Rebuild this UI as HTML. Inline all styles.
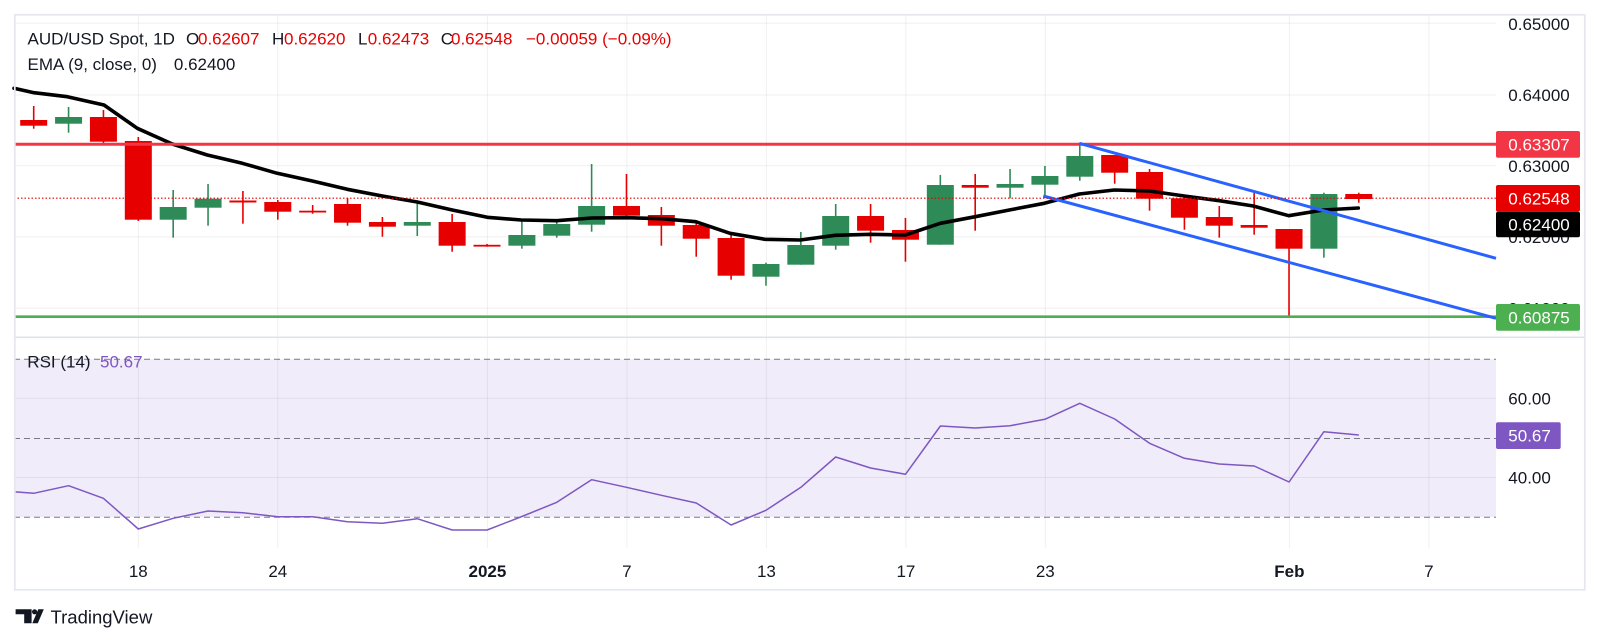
<!DOCTYPE html>
<html><head><meta charset="utf-8"><style>
html,body{margin:0;padding:0;background:#fff;}
svg{display:block;font-family:"Liberation Sans",Arial,sans-serif;}
</style></head><body>
<svg width="1601" height="644" viewBox="0 0 1601 644" xmlns="http://www.w3.org/2000/svg">
<rect width="1601" height="644" fill="#fff"/>
<!-- RSI band -->
<rect x="14" y="359.3" width="1482" height="157.7" fill="rgb(240,236,249)"/>
<!-- horizontal grid -->
<g stroke="rgba(42,46,57,0.07)" stroke-width="1">
<line x1="14" y1="23.3" x2="1496" y2="23.3"/>
<line x1="14" y1="95" x2="1496" y2="95"/>
<line x1="14" y1="165.7" x2="1496" y2="165.7"/>
<line x1="14" y1="236.7" x2="1496" y2="236.7"/>
<line x1="14" y1="308.3" x2="1496" y2="308.3"/>
<line x1="14" y1="398.3" x2="1496" y2="398.3"/>
<line x1="14" y1="477.5" x2="1496" y2="477.5"/>
</g>
<!-- vertical grid -->
<g stroke="rgba(42,46,57,0.07)" stroke-width="1">
<line x1="138.3" y1="14" x2="138.3" y2="548"/>
<line x1="277.8" y1="14" x2="277.8" y2="548"/>
<line x1="487.4" y1="14" x2="487.4" y2="548"/>
<line x1="626.9" y1="14" x2="626.9" y2="548"/>
<line x1="766.4" y1="14" x2="766.4" y2="548"/>
<line x1="905.9" y1="14" x2="905.9" y2="548"/>
<line x1="1045.3" y1="14" x2="1045.3" y2="548"/>
<line x1="1289.4" y1="14" x2="1289.4" y2="548"/>
<line x1="1428.9" y1="14" x2="1428.9" y2="548"/>
</g>
<!-- RSI dashed levels -->
<g stroke="#787b86" stroke-width="1" stroke-dasharray="6 4">
<line x1="14" y1="359.3" x2="1496" y2="359.3"/>
<line x1="14" y1="438.5" x2="1496" y2="438.5"/>
<line x1="14" y1="517.3" x2="1496" y2="517.3"/>
</g>
<!-- RSI line -->
<polyline fill="none" stroke="#7e57c2" stroke-width="1.5" stroke-linejoin="round" points="14,491.7 33.7,493.3 68.6,485.7 103.4,498.3 138.3,529 173.2,518.3 208,511 242.9,512.7 277.8,516.7 312.7,516.7 347.4,521.7 382.3,523.3 417.3,518.7 452.2,530 487.1,530 521.9,516.5 556.8,502.3 591.6,479.7 626.5,487.3 661.4,495.3 696.3,503 731.1,525 766,510.3 800.9,487.3 835.7,457 870.6,468 905.5,474.3 940.4,426 975.2,428 1010.1,425.7 1044.9,419.3 1079.8,403.3 1114.7,419 1149.6,443.3 1184.4,458.3 1219.3,464 1254.2,466 1289.1,482 1323.9,431.7 1358.8,435"/>

<!-- candles red -->
<g stroke="#e60000" stroke-width="1.6">
<line x1="33.7" y1="106" x2="33.7" y2="128.7"/>
<line x1="103.44" y1="110" x2="103.44" y2="143.3"/>
<line x1="138.31" y1="137" x2="138.31" y2="221"/>
<line x1="242.92" y1="191" x2="242.92" y2="223.7"/>
<line x1="277.79" y1="200" x2="277.79" y2="219.7"/>
<line x1="312.66" y1="205" x2="312.66" y2="213.7"/>
<line x1="347.53" y1="198" x2="347.53" y2="225.7"/>
<line x1="382.4" y1="217" x2="382.4" y2="236.7"/>
<line x1="452.14" y1="214" x2="452.14" y2="251.7"/>
<line x1="487.01" y1="244" x2="487.01" y2="246.7"/>
<line x1="626.49" y1="174" x2="626.49" y2="216.7"/>
<line x1="661.36" y1="207" x2="661.36" y2="245.7"/>
<line x1="696.23" y1="223.3" x2="696.23" y2="256.7"/>
<line x1="731.1" y1="233.3" x2="731.1" y2="279.7"/>
<line x1="870.58" y1="204" x2="870.58" y2="242.7"/>
<line x1="905.45" y1="218" x2="905.45" y2="261.7"/>
<line x1="975.19" y1="174" x2="975.19" y2="230.7"/>
<line x1="1114.67" y1="155" x2="1114.67" y2="183.7"/>
<line x1="1149.54" y1="169" x2="1149.54" y2="210.7"/>
<line x1="1184.41" y1="196.7" x2="1184.41" y2="229.7"/>
<line x1="1219.28" y1="206" x2="1219.28" y2="237.7"/>
<line x1="1254.15" y1="191.7" x2="1254.15" y2="234.7"/>
<line x1="1289.02" y1="229" x2="1289.02" y2="316.7"/>
<line x1="1358.76" y1="192.7" x2="1358.76" y2="202.7"/>
</g>
<g fill="#e60000">
<rect x="20.2" y="120" width="27" height="5.7"/>
<rect x="89.94" y="117" width="27" height="24.7"/>
<rect x="124.81" y="141" width="27" height="78.7"/>
<rect x="229.42" y="200.5" width="27" height="2"/>
<rect x="264.29" y="202" width="27" height="9.7"/>
<rect x="299.16" y="210.7" width="27" height="1.8"/>
<rect x="334.03" y="204" width="27" height="18.7"/>
<rect x="368.9" y="222" width="27" height="4.7"/>
<rect x="438.64" y="222" width="27" height="23.7"/>
<rect x="473.51" y="244.8" width="27" height="1.8"/>
<rect x="612.99" y="206" width="27" height="9.7"/>
<rect x="647.86" y="215" width="27" height="10.7"/>
<rect x="682.73" y="225" width="27" height="13.7"/>
<rect x="717.6" y="238" width="27" height="37.7"/>
<rect x="857.08" y="216" width="27" height="14.7"/>
<rect x="891.95" y="230" width="27" height="9.7"/>
<rect x="961.69" y="185" width="27" height="2.7"/>
<rect x="1101.17" y="155" width="27" height="17.7"/>
<rect x="1136.04" y="172" width="27" height="26.7"/>
<rect x="1170.91" y="198.3" width="27" height="19.4"/>
<rect x="1205.78" y="217" width="27" height="8.7"/>
<rect x="1240.65" y="225" width="27" height="2.7"/>
<rect x="1275.52" y="229" width="27" height="19.7"/>
<rect x="1345.26" y="194" width="27" height="5"/>
</g>
<!-- candles green -->
<g stroke="#2e8a57" stroke-width="1.6">
<line x1="68.57" y1="107" x2="68.57" y2="132.7"/>
<line x1="173.18" y1="190" x2="173.18" y2="237.7"/>
<line x1="208.05" y1="184" x2="208.05" y2="225.7"/>
<line x1="417.27" y1="203.3" x2="417.27" y2="236"/>
<line x1="521.88" y1="220.7" x2="521.88" y2="248.7"/>
<line x1="556.75" y1="219" x2="556.75" y2="237.7"/>
<line x1="591.62" y1="164" x2="591.62" y2="231.7"/>
<line x1="765.97" y1="262.7" x2="765.97" y2="285.7"/>
<line x1="800.84" y1="232" x2="800.84" y2="264.7"/>
<line x1="835.71" y1="204" x2="835.71" y2="249.7"/>
<line x1="940.32" y1="175" x2="940.32" y2="244.7"/>
<line x1="1010.06" y1="169" x2="1010.06" y2="198.3"/>
<line x1="1044.93" y1="166" x2="1044.93" y2="196.7"/>
<line x1="1079.8" y1="143.3" x2="1079.8" y2="180.7"/>
<line x1="1323.89" y1="192.7" x2="1323.89" y2="257.7"/>
</g>
<g fill="#2e8a57">
<rect x="55.07" y="117" width="27" height="6.7"/>
<rect x="159.68" y="207" width="27" height="12.7"/>
<rect x="194.55" y="198.7" width="27" height="9"/>
<rect x="403.77" y="222" width="27" height="3.7"/>
<rect x="508.38" y="235" width="27" height="10.7"/>
<rect x="543.25" y="224" width="27" height="11.7"/>
<rect x="578.12" y="206" width="27" height="18.7"/>
<rect x="752.47" y="264" width="27" height="12.7"/>
<rect x="787.34" y="245" width="27" height="19.7"/>
<rect x="822.21" y="216" width="27" height="29.7"/>
<rect x="926.82" y="185" width="27" height="59.7"/>
<rect x="996.56" y="184" width="27" height="3.7"/>
<rect x="1031.43" y="176" width="27" height="8.7"/>
<rect x="1066.3" y="156" width="27" height="20.7"/>
<rect x="1310.39" y="194" width="27" height="54.7"/>
</g>

<!-- EMA -->
<polyline fill="none" stroke="#000" stroke-width="3.6" stroke-linejoin="round" stroke-linecap="round" points="14,88.3 34,92.7 67.3,96.7 104,105 137.3,128.3 172.3,144 207.3,155 242.3,163.3 277.3,173.3 312.3,181 347.3,189.3 382.3,196 417.3,202 452.3,210 487.3,217.3 521.3,220 556.7,220.7 591.7,218 626.7,217.7 661.7,218.7 695.7,221.7 730,233.3 765,239.3 800.3,240 835.3,235.3 870.3,234.3 905.3,235 940.3,223.3 975.3,216.7 1009.3,210 1044.3,203.3 1079.3,194 1114.3,190 1149.3,191 1184.3,196 1219.3,200.7 1253.3,206 1288.7,215.7 1323.3,210 1358.3,208"/>

<!-- horizontal levels -->
<line x1="14" y1="144.3" x2="1496" y2="144.3" stroke="#f23645" stroke-width="3"/>
<line x1="14" y1="316.7" x2="1496" y2="316.7" stroke="#4caf50" stroke-width="2.6"/>
<!-- channel -->
<line x1="1079.3" y1="143.3" x2="1496" y2="258.3" stroke="#2962ff" stroke-width="3"/>
<line x1="1043.3" y1="196" x2="1496" y2="318.3" stroke="#2962ff" stroke-width="3"/>
<!-- current price dotted -->
<line x1="14" y1="198.2" x2="1496" y2="198.2" stroke="#e60000" stroke-width="1.2" stroke-dasharray="1.5 2"/>

<!-- pane separator & frame -->
<line x1="14" y1="337.3" x2="1585" y2="337.3" stroke="#e0e3eb" stroke-width="1.6"/>
<rect x="14.8" y="14.8" width="1570" height="575" fill="none" stroke="#e6e8ee" stroke-width="1.8"/>

<!-- legend -->
<g font-size="17" fill="#131722">
<text x="27.5" y="44.3">AUD/USD Spot, 1D</text>
<text x="186" y="44.3">O</text><text x="198" y="44.3" fill="#e60000">0.62607</text>
<text x="272" y="44.3">H</text><text x="284" y="44.3" fill="#e60000">0.62620</text>
<text x="358" y="44.3">L</text><text x="367.8" y="44.3" fill="#e60000">0.62473</text>
<text x="440.8" y="44.3">C</text><text x="451" y="44.3" fill="#e60000">0.62548</text>
<text x="526" y="44.3" fill="#e60000">−0.00059 (−0.09%)</text>
<text x="27.5" y="70">EMA (9, close, 0)</text>
<text x="173.9" y="70">0.62400</text>
<text x="27.3" y="367.3">RSI (14)</text>
<text x="100" y="367.3" fill="#7e57c2">50.67</text>
</g>

<!-- price axis -->
<g font-size="17" fill="#131722">
<text x="1508.3" y="30">0.65000</text>
<text x="1508.3" y="101">0.64000</text>
<text x="1508.3" y="171.8">0.63000</text>
<text x="1508.3" y="242.8">0.62000</text>
<text x="1508.3" y="314.3">0.61000</text>
<text x="1508.3" y="404.3">60.00</text>
<text x="1508.3" y="483.5">40.00</text>
</g>
<rect x="1496" y="131" width="84" height="26.7" rx="2" fill="#f23645"/>
<rect x="1496" y="185" width="84" height="26.7" rx="2" fill="#e60000"/>
<rect x="1496" y="211.7" width="84" height="25.6" rx="2" fill="#000"/>
<rect x="1496" y="304" width="84" height="26.7" rx="2" fill="#4caf50"/>
<rect x="1496" y="422.3" width="64.7" height="26.7" rx="2" fill="#7e57c2"/>
<g font-size="17" fill="#fff">
<text x="1508.3" y="150.4">0.63307</text>
<text x="1508.3" y="204.4">0.62548</text>
<text x="1508.3" y="230.5">0.62400</text>
<text x="1508.3" y="323.4">0.60875</text>
<text x="1508.3" y="441.7">50.67</text>
</g>

<!-- time axis -->
<g font-size="17" fill="#131722" text-anchor="middle">
<text x="138.3" y="577">18</text>
<text x="277.8" y="577">24</text>
<text x="487.4" y="577" font-weight="bold">2025</text>
<text x="626.9" y="577">7</text>
<text x="766.4" y="577">13</text>
<text x="905.9" y="577">17</text>
<text x="1045.3" y="577">23</text>
<text x="1289.4" y="577" font-weight="bold">Feb</text>
<text x="1428.9" y="577">7</text>
</g>

<!-- TradingView logo -->
<g fill="#131722">
<path d="M15.6,609.3 H31.6 V623.3 H24.2 V614.3 H15.6 Z"/>
<circle cx="34.6" cy="611.8" r="2.6"/>
<path d="M38.3,609.3 H43.8 L37.8,623.3 H32.3 Z"/>
<text x="50.5" y="623.3" font-size="18.5">TradingView</text>
</g>
</svg>
</body></html>
